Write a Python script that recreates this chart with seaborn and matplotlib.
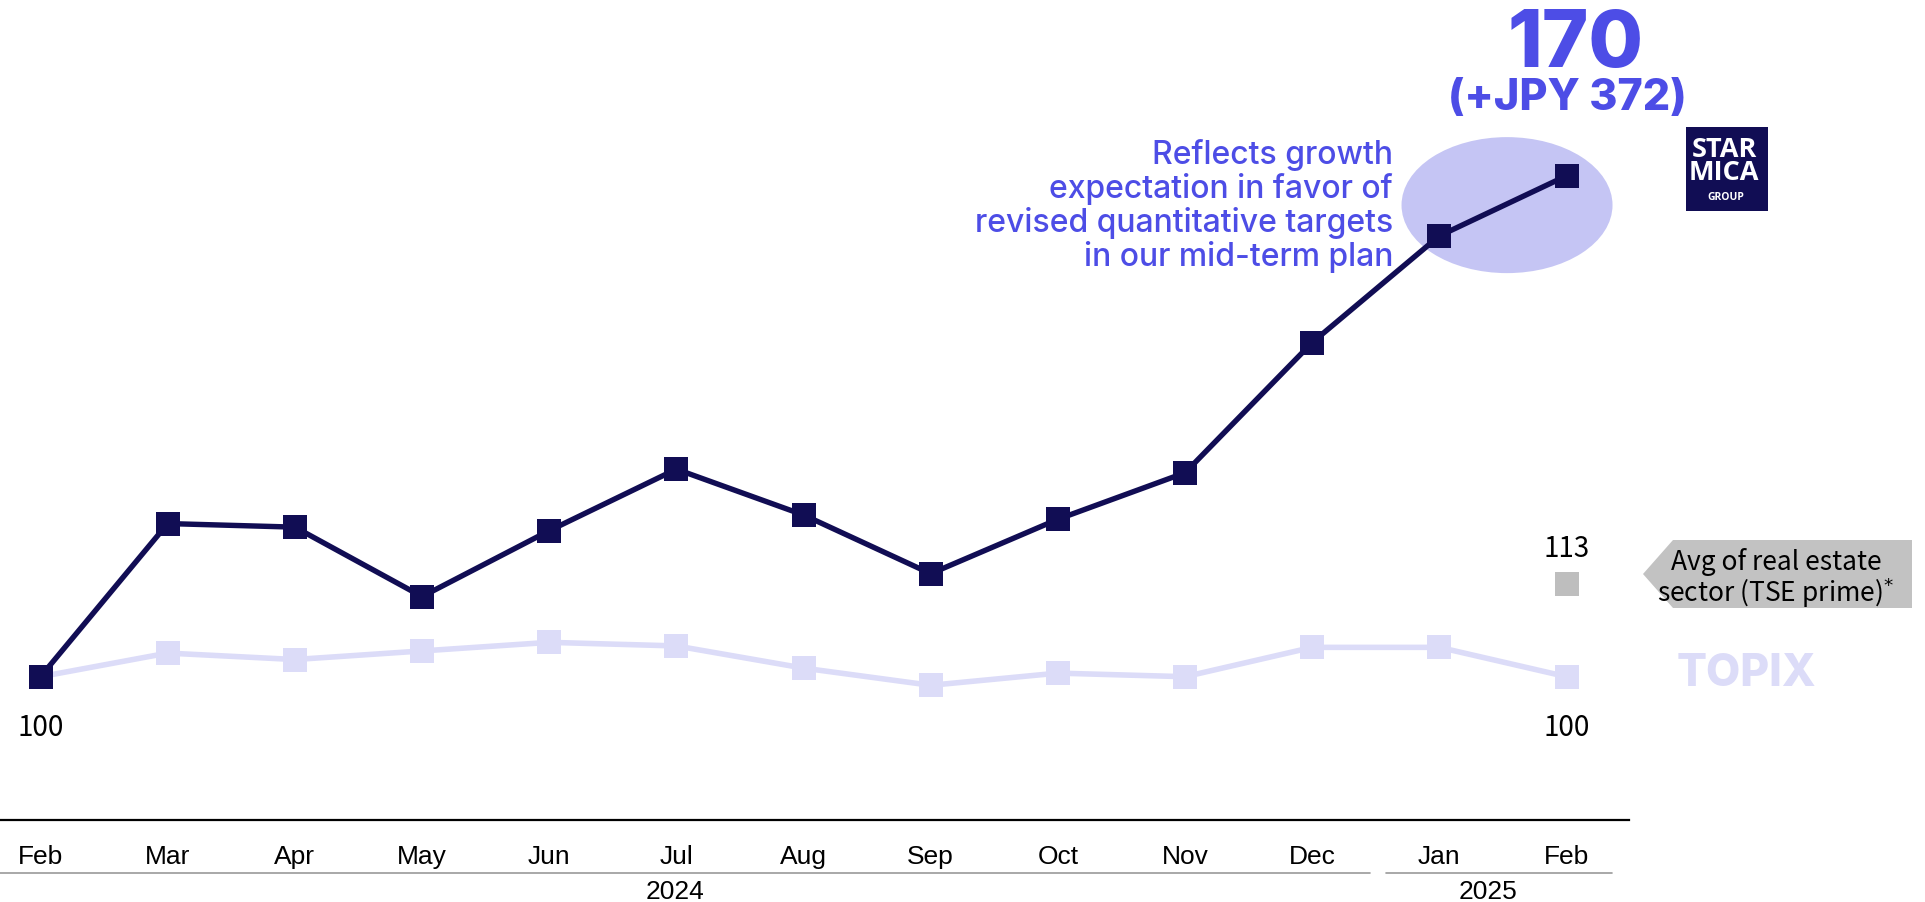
import matplotlib
matplotlib.use("Agg")
import matplotlib.pyplot as plt
from matplotlib import font_manager
from matplotlib.patches import Ellipse, Rectangle, Polygon
from matplotlib.lines import Line2D
import seaborn as sns
import pandas as pd

# ---- data -------------------------------------------------------------
months = ["Feb", "Mar", "Apr", "May", "Jun", "Jul", "Aug", "Sep",
          "Oct", "Nov", "Dec", "Jan", "Feb"]
starmica = [100, 121.4, 120.9, 111.2, 120.4, 129.0, 122.6, 114.4,
            122.0, 128.5, 146.7, 161.6, 170]
topix = [100, 103.3, 102.4, 103.6, 104.8, 104.3, 101.2, 98.8,
         100.5, 100.0, 104.1, 104.1, 100.0]
sector_avg_end = 113
years = ["2024", "2025"]

# ---- style -------------------------------------------------------------
sns.set_theme(style="white")
avail = {f.name for f in font_manager.fontManager.ttflist}
narrow = "Liberation Sans Narrow" if "Liberation Sans Narrow" in avail else "Liberation Sans"
plt.rcParams["font.family"] = ["Inter", "DejaVu Sans"]
JP = ["Noto Sans CJK JP", "DejaVu Sans"]

NAVY = "#110D54"
LAV = "#DCDCF8"
BLUE = "#4D4DE6"
HALO = "#C5C5F4"
GREY = "#C2C2C2"

W, H = 1925, 903
fig = plt.figure(figsize=(W / 100, H / 100), dpi=100)


def fx(x):
    return x / W


def fy(y):
    return 1 - y / H


# plotting area: bottom spine at y=821 px, spanning x 0..1629 px
ax = fig.add_axes([0, fy(821), fx(1629), 821 / H])
step = 127.17
x0 = 40.5
ax.set_xlim(-x0 / step, (1629 - x0) / step)
px_per_unit = 7.156
base_px = 677.7
ax.set_ylim(100 - (821 - base_px) / px_per_unit, 100 + base_px / px_per_unit)

df = pd.DataFrame({"pos": range(len(months)), "StarMica": starmica, "TOPIX": topix})

sns.lineplot(data=df, x="pos", y="TOPIX", ax=ax, color=LAV, linewidth=4.0,
             marker="s", markersize=17, markeredgewidth=0, zorder=3)
sns.lineplot(data=df, x="pos", y="StarMica", ax=ax, color=NAVY, linewidth=3.9,
             marker="s", markersize=17, markeredgewidth=0, zorder=5)

# highlight around the last two points
ax.add_patch(Ellipse((11.532, 165.9), 211 / step, 136 / px_per_unit,
                     facecolor=HALO, edgecolor="none", zorder=1))

# sector average marker at the end
ax.plot([12], [sector_avg_end], marker="s", markersize=17, color="#BEBEBE",
        markeredgewidth=0, linestyle="none", zorder=4)
ax.text(12, sector_avg_end + 5.0, str(sector_avg_end), ha="center", va="center",
        fontsize=20, color="black", family=JP)

# start / end value labels
ax.text(0, topix[0] - 7.0, "100", ha="center", va="center", fontsize=20,
        color="black", family=JP)
ax.text(12, topix[-1] - 7.0, "100", ha="center", va="center", fontsize=20,
        color="black", family=JP)

# axes cosmetics
for s in ["top", "right", "left"]:
    ax.spines[s].set_visible(False)
ax.spines["bottom"].set_color("black")
ax.spines["bottom"].set_linewidth(1.6)
ax.set_yticks([])
ax.set_xticks(range(len(months)))
ax.set_xticklabels(months, fontsize=19, family=narrow, color="black")
ax.tick_params(axis="x", length=0, pad=17)
ax.set_xlabel("")
ax.set_ylabel("")

# year separators and labels
fig.add_artist(Line2D([fx(0), fx(1370)], [fy(874), fy(874)], color="#9A9A9A", lw=1.2))
fig.add_artist(Line2D([fx(1386), fx(1612)], [fy(874), fy(874)], color="#9A9A9A", lw=1.2))
fig.text(fx(675), fy(892), years[0], ha="center", va="center", fontsize=19,
         family=narrow, color="black")
fig.text(fx(1488), fy(892), years[1], ha="center", va="center", fontsize=19,
         family=narrow, color="black")

# headline value
fig.text(fx(1576), fy(46), "170", ha="center", va="center", fontsize=57,
         fontweight="heavy", color=BLUE)
fig.text(fx(1567), fy(98), "(+JPY 372)", ha="center", va="center", fontsize=31,
         fontweight="heavy", color=BLUE)

# commentary
fig.text(fx(1393), fy(206), "Reflects growth\nexpectation in favor of\n"
         "revised quantitative targets\nin our mid-term plan",
         ha="right", va="center", fontsize=23, color=BLUE, linespacing=1.08,
         multialignment="right", fontweight="medium")

# logo block
fig.add_artist(Rectangle((fx(1686), fy(212)), fx(82), 84 / H, facecolor=NAVY,
                         edgecolor="none", transform=fig.transFigure))
LOGO = ["Open Sans", "DejaVu Sans"]
fig.text(fx(1724), fy(150), "STAR", ha="center", va="center", fontsize=19.5,
         fontweight="bold", color="white", family=LOGO)
fig.text(fx(1724), fy(173), "MICA", ha="center", va="center", fontsize=19.5,
         fontweight="bold", color="white", family=LOGO)
fig.text(fx(1726), fy(197), "GROUP", ha="center", va="center", fontsize=7.5,
         fontweight="bold", color="white", family=LOGO)

# callout for the sector average
callout = [(1643, 575), (1673, 541), (1912, 541), (1912, 609), (1673, 609)]
fig.add_artist(Polygon([(fx(x), fy(y)) for x, y in callout], closed=True,
                       facecolor=GREY, edgecolor="none", transform=fig.transFigure))
fig.text(fx(1776), fy(579), "Avg of real estate\nsector (TSE prime)$^{*}$",
         ha="center", va="center", fontsize=19, color="black", linespacing=1.0,
         family=JP)

# TOPIX label
fig.text(fx(1747), fy(674), "TOPIX", ha="center", va="center", fontsize=32,
         fontweight="heavy", color=LAV)

fig.savefig("out.png", dpi=100)
